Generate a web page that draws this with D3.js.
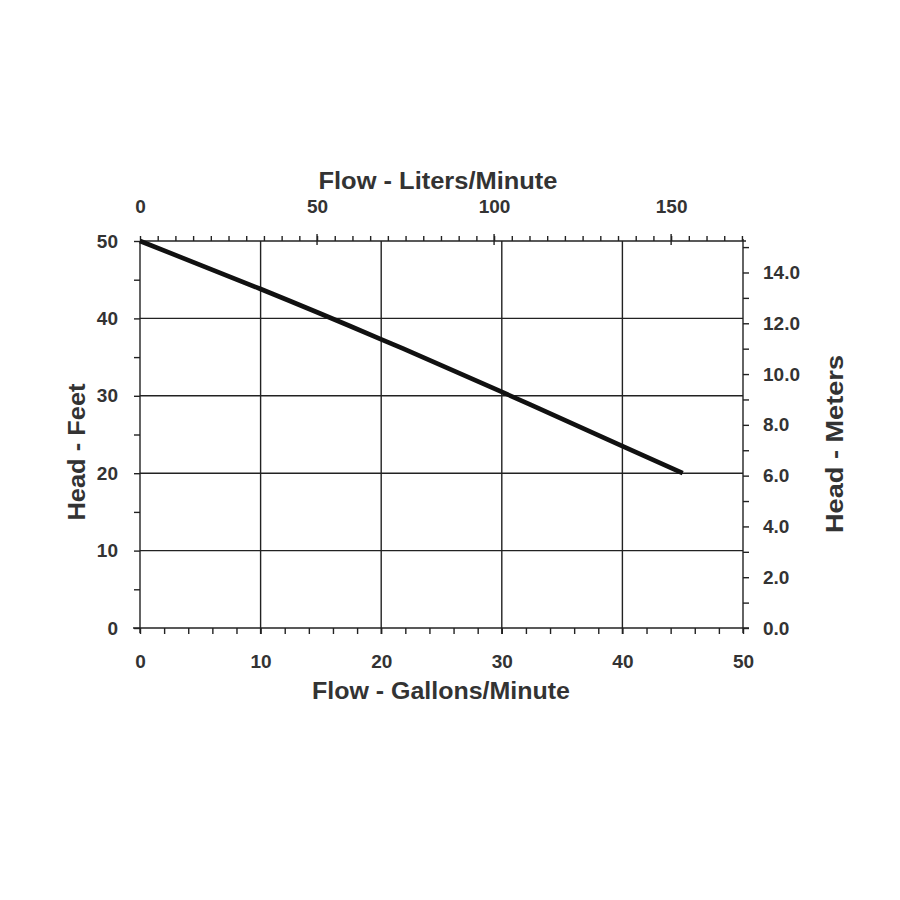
<!DOCTYPE html>
<html><head><meta charset="utf-8">
<script src="https://cdn.jsdelivr.net/npm/d3@7"></script>
<style>body{margin:0;background:#fff}svg text{font-family:"Liberation Sans",Arial,sans-serif;font-weight:bold;fill:#333}</style>
</head><body><div id="chart"></div>
<script>
// Pump curve: flow (gallons/minute) vs head (feet)
const flowGpm = [0, 10, 20, 30, 40, 45];
const headFt  = [50, 43.8, 37.3, 30.5, 23.5, 20];
const gpmTicks = [0, 10, 20, 30, 40, 50];
const feetTicks = [0, 10, 20, 30, 40, 50];
const literTicks = [0, 50, 100, 150];
const meterTicks = [0, 2, 4, 6, 8, 10, 12, 14];
const titleTop = "Flow - Liters/Minute";
const titleBottom = "Flow - Gallons/Minute";
const titleLeft = "Head - Feet";
const titleRight = "Head - Meters";

const W = 900, H = 900;
const L = 140, R = 743, T = 241, B = 628;
const svg = d3.select("#chart").append("svg").attr("width", W).attr("height", H);

const x = d3.scaleLinear().domain([0, 50]).range([L, R]);
const y = d3.scaleLinear().domain([0, 50]).range([B, T]);
const xL = d3.scaleLinear().domain([0, 170.3]).range([L, R]);
const yM = d3.scaleLinear().domain([0, 15.24]).range([B, T]);

const stroke = "#222";
// grid
const g = svg.append("g").attr("stroke", stroke).attr("stroke-width", 1.4);
[10, 20, 30, 40].forEach(v => {
  g.append("line").attr("x1", x(v)).attr("x2", x(v)).attr("y1", T).attr("y2", B + 6);
  g.append("line").attr("x1", L).attr("x2", R).attr("y1", y(v)).attr("y2", y(v));
});
// frame
g.append("line").attr("x1", L).attr("x2", L).attr("y1", T).attr("y2", B + 5);
g.append("line").attr("x1", R).attr("x2", R).attr("y1", T - 2).attr("y2", B + 5);
g.append("line").attr("x1", L - 7).attr("x2", R + 6).attr("y1", B).attr("y2", B);
g.append("line").attr("x1", L).attr("x2", R + 3).attr("y1", T).attr("y2", T);

// bottom axis (gpm)
svg.append("g").attr("transform", `translate(0,${B})`)
  .call(d3.axisBottom(x).tickValues(d3.range(0, 51, 2)).tickSize(6).tickFormat(""));
svg.append("g").attr("transform", `translate(0,${B})`)
  .call(d3.axisBottom(x).tickValues(gpmTicks).tickSize(0).tickPadding(27).tickFormat(d3.format("d")));
// left axis (feet)
svg.append("g").attr("transform", `translate(${L},0)`)
  .call(d3.axisLeft(y).tickValues(d3.range(0, 51, 5)).tickSize(6).tickFormat(""));
svg.append("g").attr("transform", `translate(${L},0)`)
  .call(d3.axisLeft(y).tickValues(feetTicks).tickSize(0).tickPadding(22).tickFormat(d3.format("d")));
// top axis (liters)
svg.append("g").attr("transform", `translate(0,${T})`)
  .call(d3.axisTop(xL).tickValues(d3.range(0, 171, 5)).tickSize(5).tickFormat(""));
svg.append("g").attr("transform", `translate(0,${T})`)
  .call(d3.axisTop(xL).tickValues(literTicks).tickSize(0).tickPadding(28).tickFormat(d3.format("d")));
// major liter ticks crossing
svg.append("g").selectAll("line").data(literTicks.slice(1)).join("line")
  .attr("x1", d => xL(d)).attr("x2", d => xL(d)).attr("y1", T - 7).attr("y2", T + 4)
  .attr("stroke", stroke).attr("stroke-width", 1.4);
// right axis (meters)
svg.append("g").attr("transform", `translate(${R},0)`)
  .call(d3.axisRight(yM).tickValues(d3.range(0, 16, 1)).tickSize(6).tickFormat(""));
svg.append("g").attr("transform", `translate(${R},0)`)
  .call(d3.axisRight(yM).tickValues(meterTicks).tickSize(0).tickPadding(20).tickFormat(d3.format(".1f")));

svg.selectAll(".domain").remove();
svg.selectAll(".tick line").attr("stroke", stroke).attr("stroke-width", 1.4);
svg.selectAll(".tick text").style("font-size", "19px").attr("fill", "#333");

// curve
const line = d3.line().x((d, i) => x(flowGpm[i])).y(d => y(d)).curve(d3.curveNatural);
svg.append("path").datum(headFt).attr("d", line)
  .attr("fill", "none").attr("stroke", "#111").attr("stroke-width", 4.6).attr("stroke-linecap", "butt");

// titles
function title(tf, txt, len) {
  svg.append("text").attr("transform", tf).attr("text-anchor", "middle")
    .style("font-size", "23px").attr("textLength", len).attr("lengthAdjust", "spacingAndGlyphs").text(txt);
}
title("translate(438,189)", titleTop, 239);
title("translate(441,699)", titleBottom, 258);
title("translate(85,452) rotate(-90)", titleLeft, 137);
title("translate(843,444) rotate(-90)", titleRight, 178);
</script></body></html>
